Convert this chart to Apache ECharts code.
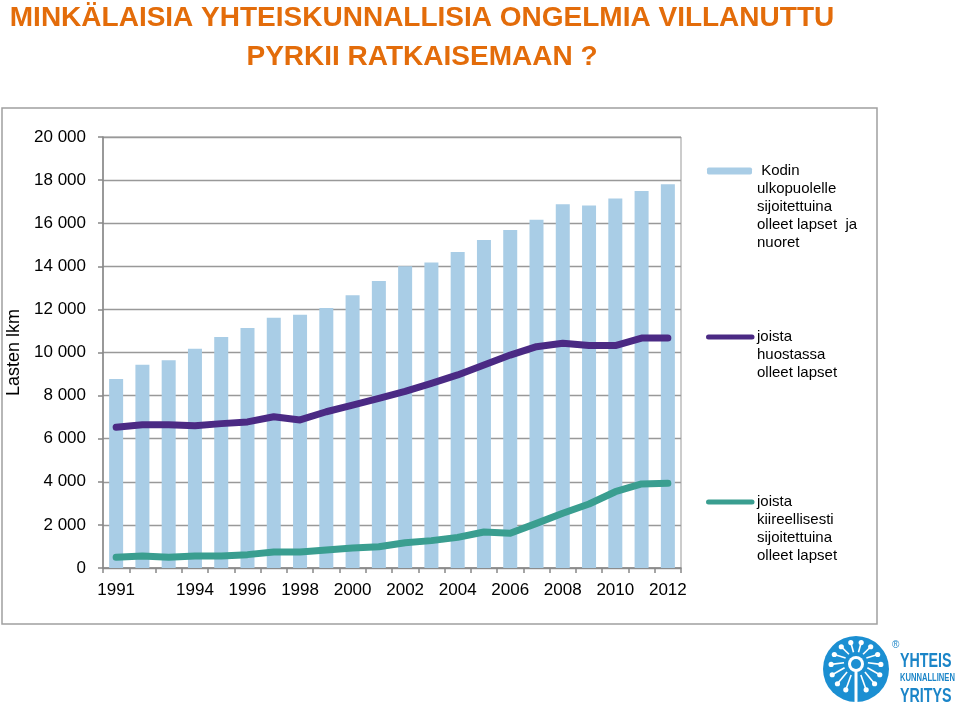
<!DOCTYPE html>
<html>
<head>
<meta charset="utf-8">
<script src="https://cdn.jsdelivr.net/npm/echarts@6/dist/echarts.min.js"></script>
<style>html,body{margin:0;padding:0;background:#fff}#c{width:960px;height:712px}</style>
</head>
<body>
<div id="c"></div>
<script>
const years = ['1991','1992','1993','1994','1995','1996','1997','1998','1999','2000','2001','2002','2003','2004','2005','2006','2007','2008','2009','2010','2011','2012'];
const shownYears = ['1991','1994','1996','1998','2000','2002','2004','2006','2008','2010','2012'];
const placedTotal = [8770,9430,9640,10170,10720,11140,11610,11750,12060,12660,13320,14000,14180,14660,15220,15680,16160,16880,16820,17150,17490,17810];
const custody = [6530,6650,6650,6600,6700,6780,7020,6870,7250,7560,7870,8200,8570,8960,9420,9880,10270,10430,10320,10320,10670,10670];
const urgent = [500,560,500,560,560,620,740,740,835,930,990,1175,1270,1420,1670,1610,2070,2540,2970,3540,3900,3930];
const seriesNames = [
  ' Kodin\nulkopuolelle\nsijoitettuina\nolleet lapset  ja\nnuoret',
  'joista\nhuostassa\nolleet lapset',
  'joista\nkiireellisesti\nsijoitettuina\nolleet lapset'
];
const titleText = 'MINKÄLAISIA YHTEISKUNNALLISIA ONGELMIA VILLANUTTU\nPYRKII RATKAISEMAAN ?';
const yAxisName = 'Lasten lkm';

const chart = echarts.init(document.getElementById('c'), null, {renderer: 'canvas'});
const LH = 18;
function legendFor(name, lines, centerY, iconH, left, iconW) {
  return {
    data: [name],
    orient: 'vertical',
    left: left,
    top: centerY - (2 * lines - 1) * LH / 2,
    padding: 0,
    itemWidth: iconW,
    itemHeight: iconH,
    itemGap: 0,
    selectedMode: false,
    formatter: n => '\n'.repeat(lines - 1) + n,
    textStyle: {fontFamily: 'Liberation Sans, Arial, sans-serif', fontSize: 15, color: '#000', lineHeight: LH},
    lineStyle: {width: 5, cap: 'round'}
  };
}

// logo spokes
const logoCx = 856, logoCy = 669, logoR = 33;
const logoEls = [
  {type: 'circle', shape: {cx: logoCx, cy: logoCy, r: logoR}, style: {fill: '#1b8fd2'}, silent: true}
];
for (let k = 0; k < 14; k++) {
  const a = Math.PI / 2 + (k + 1) * (2 * Math.PI / 15);
  const x1 = logoCx + Math.cos(a) * 12, y1 = logoCy - 5 + Math.sin(a) * 12;
  const x2 = logoCx + Math.cos(a) * 25, y2 = logoCy - 2 + Math.sin(a) * 25;
  logoEls.push({type: 'line', shape: {x1, y1, x2, y2}, style: {stroke: '#fff', lineWidth: 1.6}, silent: true});
  logoEls.push({type: 'circle', shape: {cx: x2, cy: y2, r: 2.6}, style: {fill: '#fff'}, silent: true});
}
logoEls.push({type: 'circle', shape: {cx: logoCx, cy: logoCy - 5, r: 8}, style: {fill: '#fff'}, silent: true});
logoEls.push({type: 'circle', shape: {cx: logoCx, cy: logoCy - 5, r: 5}, style: {fill: '#1b8fd2'}, silent: true});
logoEls.push({type: 'rect', shape: {x: logoCx - 1.5, y: logoCy + 2, width: 3, height: logoR - 2}, style: {fill: '#fff'}, silent: true});
logoEls.push({type: 'text', x: 900, y: 651, scaleX: 0.68, style: {text: 'YHTEIS', font: 'bold 21px Liberation Sans, Arial, sans-serif', fill: '#1b85c8'}, silent: true});
logoEls.push({type: 'text', x: 900, y: 673, scaleX: 0.76, style: {text: 'KUNNALLINEN', font: 'bold 10px Liberation Sans, Arial, sans-serif', fill: '#1b85c8'}, silent: true});
logoEls.push({type: 'text', x: 900, y: 686, scaleX: 0.68, style: {text: 'YRITYS', font: 'bold 21px Liberation Sans, Arial, sans-serif', fill: '#1b85c8'}, silent: true});
logoEls.push({type: 'text', x: 892, y: 640, style: {text: '®', font: '10px Liberation Sans, Arial, sans-serif', fill: '#1b85c8'}, silent: true});

const option = {
  backgroundColor: '#fff',
  animation: false,
  graphic: [
    {type: 'rect', shape: {x: 2, y: 108, width: 875, height: 516}, style: {fill: 'none', stroke: '#a0a0a0', lineWidth: 1.5}, silent: true, z: -10},
    {type: 'text', x: 422, y: -1, style: {text: titleText, textAlign: 'center', textVerticalAlign: 'top', font: 'bold 28px Liberation Sans, Arial, sans-serif', lineHeight: 39, fill: '#e36c0a'}, silent: true},
    ...logoEls
  ],
  legend: [
    legendFor(seriesNames[0], 5, 171, 7, 707, 45),
    legendFor(seriesNames[1], 3, 337, 5, 706, 43.5),
    legendFor(seriesNames[2], 4, 502, 5, 706, 43.5)
  ],
  grid: {left: 103, right: 279, top: 137, bottom: 144, show: true, borderColor: '#999', borderWidth: 1, containLabel: false, outerBoundsMode: 'none'},
  xAxis: {
    type: 'category',
    data: years,
    boundaryGap: true,
    axisLine: {lineStyle: {color: '#888', width: 1.5}},
    axisTick: {show: true, interval: 0, length: 5, lineStyle: {color: '#888', width: 1.5}},
    axisLabel: {
      interval: (i, v) => shownYears.includes(v),
      color: '#000', fontSize: 17, fontFamily: 'Liberation Sans, Arial, sans-serif', margin: 14
    },
    splitLine: {show: false}
  },
  yAxis: {
    type: 'value',
    min: 0, max: 20000, interval: 2000,
    name: yAxisName,
    nameLocation: 'middle',
    nameGap: 77,
    nameRotate: 90,
    nameTextStyle: {color: '#000', fontSize: 18, fontFamily: 'Liberation Sans, Arial, sans-serif'},
    axisLine: {show: true, lineStyle: {color: '#888', width: 1.5}},
    axisTick: {show: true, length: 5, lineStyle: {color: '#888', width: 1.5}},
    axisLabel: {
      color: '#000', fontSize: 17, fontFamily: 'Liberation Sans, Arial, sans-serif', margin: 17,
      formatter: v => String(v).replace(/\B(?=(\d{3})+(?!\d))/g, ' ')
    },
    splitLine: {show: true, lineStyle: {color: '#999', width: 1.3}}
  },
  series: [
    {name: seriesNames[0], type: 'bar', data: placedTotal, barWidth: 14, itemStyle: {color: '#a9cde6'}, color: '#a9cde6', z: 1},
    {name: seriesNames[1], type: 'line', data: custody, symbol: 'none', color: '#4b2a84',
      lineStyle: {color: '#4b2a84', width: 7, cap: 'round', join: 'round'}, z: 3},
    {name: seriesNames[2], type: 'line', data: urgent, symbol: 'none', color: '#3a9e90',
      lineStyle: {color: '#3a9e90', width: 7, cap: 'round', join: 'round'}, z: 3}
  ]
};
chart.setOption(option);
</script>
</body>
</html>
